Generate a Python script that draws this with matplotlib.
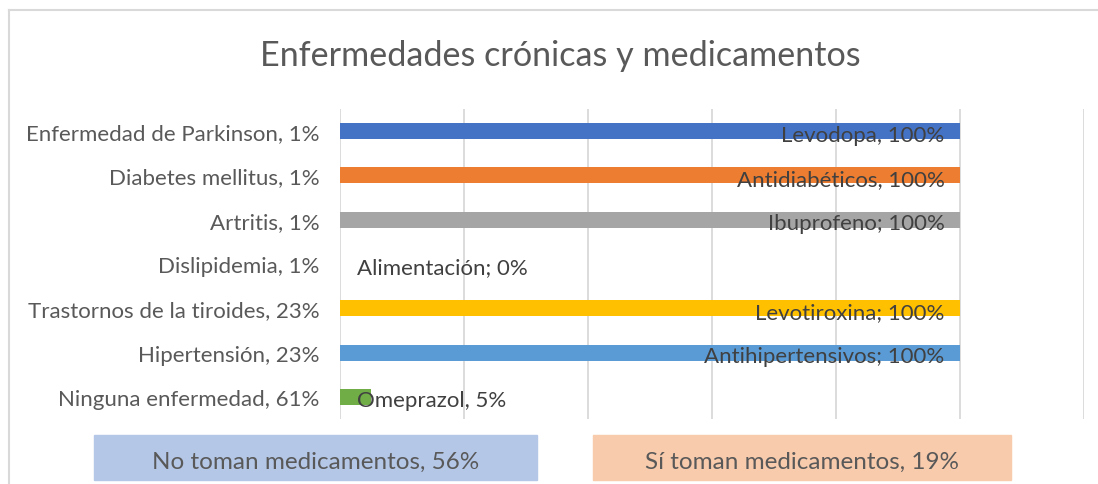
import matplotlib.pyplot as plt
from matplotlib.patches import Rectangle

plt.rcParams['font.family'] = ['Lato', 'DejaVu Sans']

# datos
enfermedades = ['Enfermedad de Parkinson, 1%', 'Diabetes mellitus, 1%', 'Artritis, 1%',
                'Dislipidemia, 1%', 'Trastornos de la tiroides, 23%', 'Hipertensión, 23%',
                'Ninguna enfermedad, 61%']
medicamentos = ['Levodopa, 100%', 'Antidiabéticos, 100%', 'Ibuprofeno; 100%',
                'Alimentación; 0%', 'Levotiroxina; 100%', 'Antihipertensivos; 100%',
                'Omeprazol, 5%']
valores = [100, 100, 100, 0, 100, 100, 5]
colores = ['#4472C4', '#ED7D31', '#A5A5A5', '#FFC000', '#FFC000', '#5B9BD5', '#70AD47']
resumen = ['No toman medicamentos, 56%', 'Sí toman medicamentos, 19%']
colores_resumen = ['#B4C7E7', '#F8CBAD']

W, H = 1098, 485
fig = plt.figure(figsize=(W / 100, H / 100), dpi=100)

def fx(px):
    return px / W

def fy(py):
    return 1 - py / H

# ejes: 0% en x=340, 120% en x=1084
ax = fig.add_axes([fx(340), fy(420), fx(1084) - fx(340), fy(110) - fy(420)])
y = list(range(len(enfermedades)))
ax.barh(y, valores, height=0.36, color=colores, zorder=3)
ax.set_xlim(0, 120)
ax.set_ylim(len(enfermedades) - 0.5, -0.5)
ax.set_xticks(range(0, 121, 20))
ax.set_xticklabels([])
ax.tick_params(length=0)
ax.grid(axis='x', color='#D9D9D9', linewidth=1.3, zorder=0)
for s in ax.spines.values():
    s.set_visible(False)
ax.set_yticks(y)
ax.set_yticklabels(enfermedades, fontsize=16, color='#595959')
ax.tick_params(axis='y', pad=15)

for yi, v, t in zip(y, valores, medicamentos):
    if v > 50:
        ax.text(v - 2.5, yi + 0.08, t, ha='right', va='center', fontsize=16,
                color='#404040', zorder=4)
    else:
        ax.text(2.7, yi + 0.08, t, ha='left', va='center', fontsize=16,
                color='#404040', zorder=4)

fig.text(fx(560), fy(56), 'Enfermedades crónicas y medicamentos', ha='center', va='center',
         fontsize=24.6, color='#595959')

# recuadros inferiores
cajas = [(94, 537), (593, 1011)]
for (x0, x1), t, c in zip(cajas, resumen, colores_resumen):
    fig.patches.append(Rectangle((fx(x0), fy(481)), fx(x1) - fx(x0), fy(436) - fy(481),
                                 transform=fig.transFigure, color=c, zorder=1))
    fig.text(fx((x0 + x1) / 2), fy(462), t, ha='center', va='center', fontsize=17.5,
             color='#595959')

# borde del gráfico
fig.add_artist(plt.Line2D([fx(8.5), fx(8.5)], [0, fy(10.5)], transform=fig.transFigure,
                          color='#D9D9D9', linewidth=1.5))
fig.add_artist(plt.Line2D([fx(8.5), 1], [fy(10.5), fy(10.5)], transform=fig.transFigure,
                          color='#D9D9D9', linewidth=1.5))

fig.savefig('out.png', dpi=100)
